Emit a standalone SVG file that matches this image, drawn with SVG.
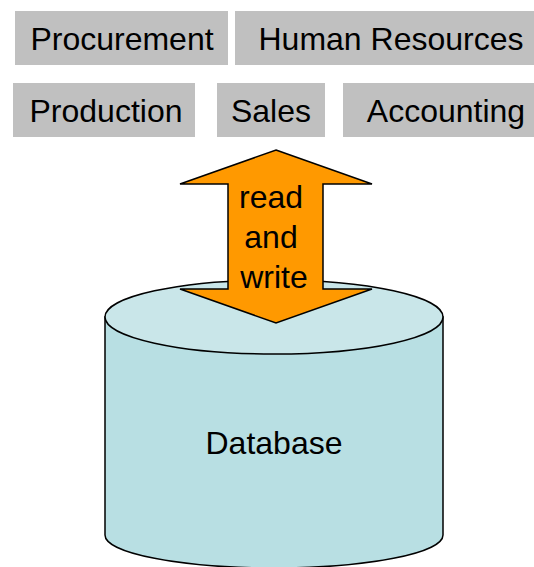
<svg xmlns="http://www.w3.org/2000/svg" width="534" height="567" viewBox="0 0 534 567">
  <style>
    .dept rect { fill: #c0c0c0; }
    text { font-family: "Liberation Sans", Arial, sans-serif; font-size: 32px; fill: #000; text-anchor: middle; }
    .db { stroke: #000; stroke-width: 1.5; }
  </style>
  <rect width="534" height="567" fill="#fff"/>

  <!-- departments -->
  <g id="procurement" class="dept">
    <rect x="15" y="11" width="213" height="54"/>
    <text x="122" y="50">Procurement</text>
  </g>
  <g id="human-resources" class="dept">
    <rect x="235" y="11" width="305" height="54"/>
    <text x="391" y="50">Human Resources</text>
  </g>
  <g id="production" class="dept">
    <rect x="13" y="83" width="182" height="54"/>
    <text x="106" y="122">Production</text>
  </g>
  <g id="sales" class="dept">
    <rect x="217" y="83" width="108" height="54"/>
    <text x="271" y="122">Sales</text>
  </g>
  <g id="accounting" class="dept">
    <rect x="343" y="83" width="195" height="54"/>
    <text x="446" y="122">Accounting</text>
  </g>

  <!-- database cylinder -->
  <g id="database">
    <path class="db" fill="#b8dfe3" d="M105,317 L105,535 A169,33 0 0 0 443,535 L443,317 Z"/>
    <ellipse class="db" cx="274" cy="317" rx="169" ry="37" fill="#c9e6e9"/>
    <text x="274" y="454">Database</text>
  </g>

  <!-- read/write connector -->
  <g id="connectors">
    <path d="M276,150 L372,184 L323,184 L323,289 L372,289 L276,323 L180,289 L228,289 L228,184 L180,184 Z" fill="#ff9900" stroke="#000" stroke-width="1.5" stroke-linejoin="miter"/>
    <text x="271" y="208">read</text>
    <text x="271" y="248">and</text>
    <text x="274" y="288">write</text>
  </g>
</svg>
